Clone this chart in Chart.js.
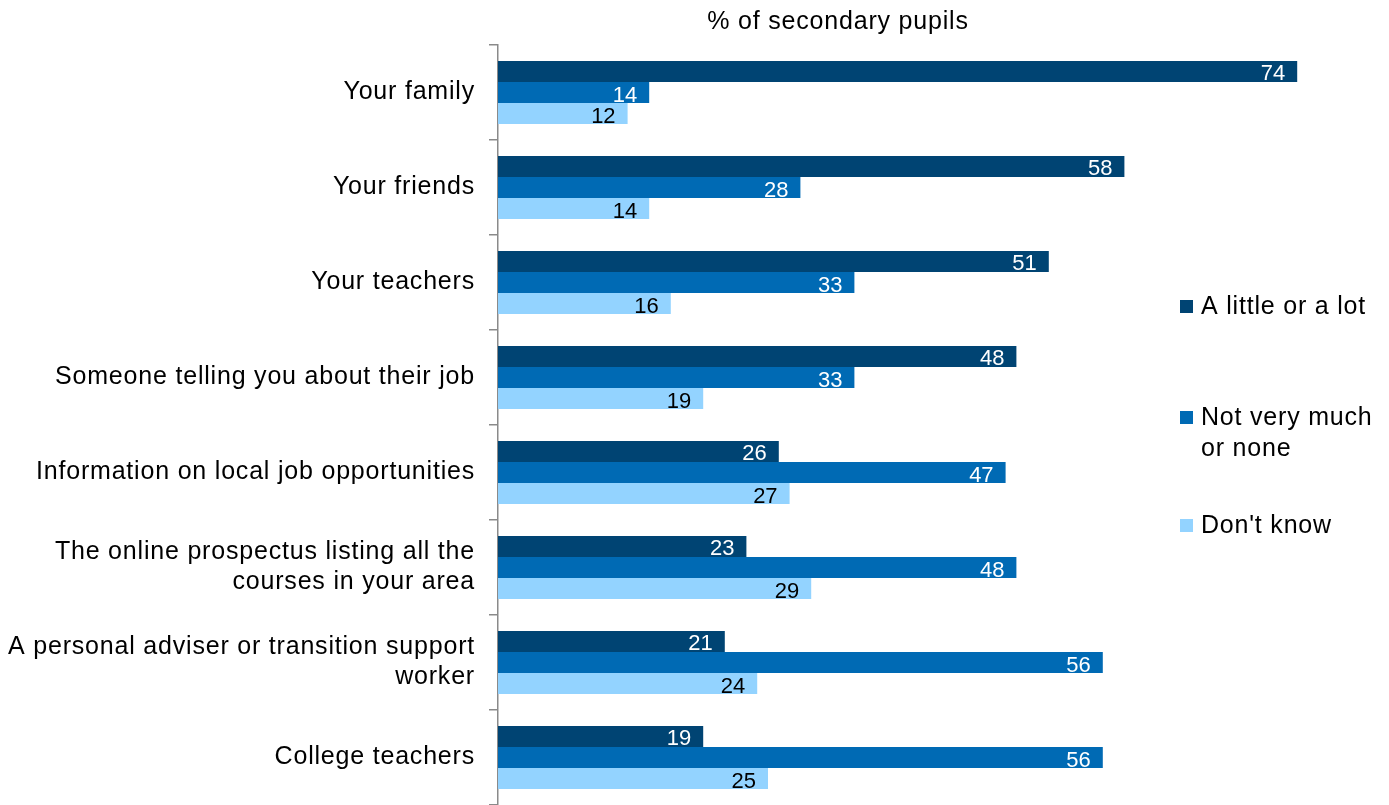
<!DOCTYPE html>
<html>
<head>
<meta charset="utf-8">
<title>Influence on secondary pupils</title>
<script src="https://cdn.jsdelivr.net/npm/chart.js@4.4.1/dist/chart.umd.min.js"></script>
<style>
  html, body { margin: 0; padding: 0; background: #fff; }
  #wrap { position: relative; width: 1389px; height: 805px; }
</style>
</head>
<body>
<div id="wrap"><canvas id="pupilsChart" width="1389" height="805"></canvas></div>
<script>
// Data
const categories = [
  'Your family',
  'Your friends',
  'Your teachers',
  'Someone telling you about their job',
  'Information on local job opportunities',
  ['The online prospectus listing all the', 'courses in your area'],
  ['A personal adviser or transition support', 'worker'],
  'College teachers'
];
const seriesNames   = ['A little or a lot', 'Not very much or none', "Don't know"];
const aLittleOrALot = [74, 58, 51, 48, 26, 23, 21, 19];
const notVeryMuch   = [14, 28, 33, 33, 47, 48, 56, 56];
const dontKnow      = [12, 14, 16, 19, 27, 29, 24, 25];
const chartTitle    = '% of secondary pupils';

const FONT = "'Liberation Sans', Arial, sans-serif";
const TEXT_SIZE = 25;
const TEXT_SPACING = '0.8px';   // the original text is drawn wide
const barColours   = ['#004473', '#006AB4', '#93D3FF'];
const labelColours = ['#ffffff', '#ffffff', '#000000'];

// wide letter spacing for axis labels, title and legend
const wideText = {
  id: 'wideText',
  beforeDraw(chart) { chart.ctx.letterSpacing = TEXT_SPACING; }
};

// value labels inside the end of each bar
const barValueLabels = {
  id: 'barValueLabels',
  afterDatasetsDraw(chart) {
    const ctx = chart.ctx;
    ctx.save();
    ctx.letterSpacing = '0px';
    ctx.font = '22px ' + FONT;
    ctx.textAlign = 'right';
    ctx.textBaseline = 'alphabetic';
    chart.data.datasets.forEach((ds, i) => {
      const meta = chart.getDatasetMeta(i);
      ctx.fillStyle = labelColours[i];
      meta.data.forEach((bar, j) => {
        ctx.fillText(String(ds.data[j]), bar.x - 12, bar.y + 9);
      });
    });
    ctx.restore();
  }
};

// title + legend placed like the original (legend floats over the plot)
const sideDecor = {
  id: 'sideDecor',
  afterDraw(chart, args, opts) {
    const ctx = chart.ctx;
    ctx.save();
    ctx.letterSpacing = TEXT_SPACING;
    ctx.font = TEXT_SIZE + 'px ' + FONT;
    ctx.fillStyle = '#000';
    ctx.textBaseline = 'alphabetic';
    ctx.textAlign = 'center';
    ctx.fillText(opts.title, opts.titleX, opts.titleBaseline);

    ctx.textAlign = 'left';
    chart.data.datasets.forEach((ds, i) => {
      const base = opts.baselines[i];
      ctx.fillStyle = ds.backgroundColor;
      ctx.fillRect(opts.x, base - 14, 13, 13);
      // simple word wrap
      const words = ds.label.split(' ');
      const lines = [];
      let line = '';
      words.forEach(w => {
        const test = line ? line + ' ' + w : w;
        if (ctx.measureText(test).width > opts.maxWidth && line) { lines.push(line); line = w; }
        else line = test;
      });
      lines.push(line);
      ctx.fillStyle = '#000';
      lines.forEach((l, k) => ctx.fillText(l, opts.x + 21, base + k * 31));
    });
    ctx.restore();
  }
};

new Chart(document.getElementById('pupilsChart'), {
  type: 'bar',
  data: {
    labels: categories,
    datasets: [
      { label: seriesNames[0], data: aLittleOrALot, backgroundColor: barColours[0] },
      { label: seriesNames[1], data: notVeryMuch,   backgroundColor: barColours[1] },
      { label: seriesNames[2], data: dontKnow,      backgroundColor: barColours[2] }
    ]
  },
  options: {
    indexAxis: 'y',
    responsive: false,
    animation: false,
    layout: { padding: { top: 45, right: 27, bottom: 0, left: 0 } },
    datasets: { bar: { barPercentage: 1, categoryPercentage: 0.665 } },
    plugins: {
      legend: { display: false },
      tooltip: { enabled: false },
      title: { display: false },
      sideDecor: {
        title: chartTitle, titleX: 838, titleBaseline: 29,
        x: 1180, baselines: [314, 425, 533], maxWidth: 186
      }
    },
    scales: {
      x: { display: false, min: 0, max: 80 },
      y: {
        afterFit(scale) {
          scale.width = 498;
          scale.paddingTop = 0;
          scale.paddingBottom = 0;
        },
        grid: { drawOnChartArea: false, drawTicks: true, tickLength: 9, color: '#8a8a8a', lineWidth: 1.5, offset: true },
        border: { display: true, color: '#8a8a8a', width: 1.5 },
        ticks: {
          autoSkip: false,
          padding: 14,
          color: '#000',
          font: { family: FONT, size: TEXT_SIZE, lineHeight: 1.2 }
        }
      }
    }
  },
  plugins: [wideText, barValueLabels, sideDecor]
});
</script>
</body>
</html>
